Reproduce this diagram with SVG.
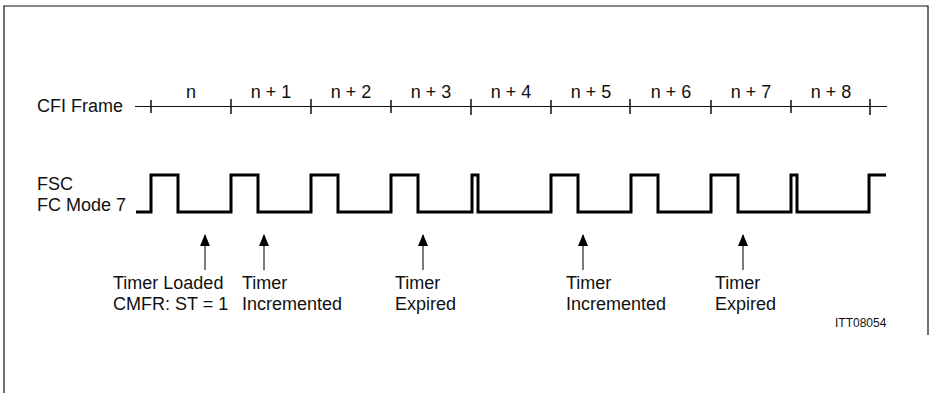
<svg xmlns="http://www.w3.org/2000/svg" width="930" height="393" viewBox="0 0 930 393">
<defs>
<style>
.t{font-family:"Liberation Sans",Arial,sans-serif;font-size:18px;fill:#111}
.c{text-anchor:middle}
.ln{stroke:#111;stroke-width:1.2;fill:none}
.tk{stroke:#111;stroke-width:1.5}
.wave{stroke:#000;stroke-width:3;fill:none;stroke-linejoin:miter}
.stem{stroke:#222;stroke-width:1.2}
</style>
<marker id="ah" viewBox="0 0 12 10" refX="11" refY="5" markerWidth="12" markerHeight="10" markerUnits="userSpaceOnUse" orient="auto">
<path d="M0 0 L12 5 L0 10 Z" fill="#000"/>
</marker>
</defs>
<rect width="930" height="393" fill="#fff"/>
<g id="frame">
<path d="M4 393 V6 H928 V335" class="ln" stroke-width="1.5"/>
</g>
<g id="cfi-frame">
<text class="t" x="37" y="112">CFI Frame</text>
<line class="ln" x1="135" y1="106.5" x2="887" y2="106.5"/>
<g class="tk">
<line x1="151" y1="100" x2="151" y2="113"/>
<line x1="231" y1="99" x2="231" y2="114"/>
<line x1="311" y1="99" x2="311" y2="114"/>
<line x1="391" y1="100" x2="391" y2="113"/>
<line x1="471" y1="99" x2="471" y2="115"/>
<line x1="551" y1="100" x2="551" y2="114"/>
<line x1="630" y1="99" x2="630" y2="114"/>
<line x1="711" y1="100" x2="711" y2="114"/>
<line x1="791" y1="100" x2="791" y2="113"/>
<line x1="870" y1="99" x2="870" y2="115"/>
</g>
<text class="t c" x="191" y="98">n</text>
<text class="t c" x="271" y="98">n + 1</text>
<text class="t c" x="351" y="98">n + 2</text>
<text class="t c" x="431" y="98">n + 3</text>
<text class="t c" x="511" y="98">n + 4</text>
<text class="t c" x="591" y="98">n + 5</text>
<text class="t c" x="671" y="98">n + 6</text>
<text class="t c" x="751" y="98">n + 7</text>
<text class="t c" x="831" y="98">n + 8</text>
</g>
<g id="fsc">
<text class="t" x="37" y="190">FSC</text>
<text class="t" x="37" y="211">FC Mode 7</text>
<path class="wave" d="M136 212 H151 V175 H178 V212 H231 V175 H258 V212 H311 V175 H338 V212 H391 V175 H418 V212 H472 V175 H478 V212 H551 V175 H578 V212 H631 V175 H658 V212 H711 V175 H738 V212 H791 V175 H797 V212 H869 V175 H886"/>
</g>
<g id="connectors">
<line class="stem" x1="205" y1="270" x2="205" y2="235" marker-end="url(#ah)"/>
<line class="stem" x1="264" y1="270" x2="264" y2="235" marker-end="url(#ah)"/>
<line class="stem" x1="423" y1="270" x2="423" y2="235" marker-end="url(#ah)"/>
<line class="stem" x1="583" y1="270" x2="583" y2="235" marker-end="url(#ah)"/>
<line class="stem" x1="743" y1="270" x2="743" y2="235" marker-end="url(#ah)"/>
</g>
<g id="label-loaded">
<text class="t" x="113" y="289">Timer Loaded</text>
<text class="t" x="113" y="310">CMFR: ST = 1</text>
</g>
<g id="label-incremented-1">
<text class="t" x="242" y="289">Timer</text>
<text class="t" x="242" y="310">Incremented</text>
</g>
<g id="label-expired-1">
<text class="t" x="395" y="289">Timer</text>
<text class="t" x="395" y="310">Expired</text>
</g>
<g id="label-incremented-2">
<text class="t" x="566" y="289">Timer</text>
<text class="t" x="566" y="310">Incremented</text>
</g>
<g id="label-expired-2">
<text class="t" x="715" y="289">Timer</text>
<text class="t" x="715" y="310">Expired</text>
</g>
<text x="835" y="327" font-family="Liberation Sans Narrow,Liberation Sans,Arial,sans-serif" font-size="12" fill="#111">ITT08054</text>
</svg>
